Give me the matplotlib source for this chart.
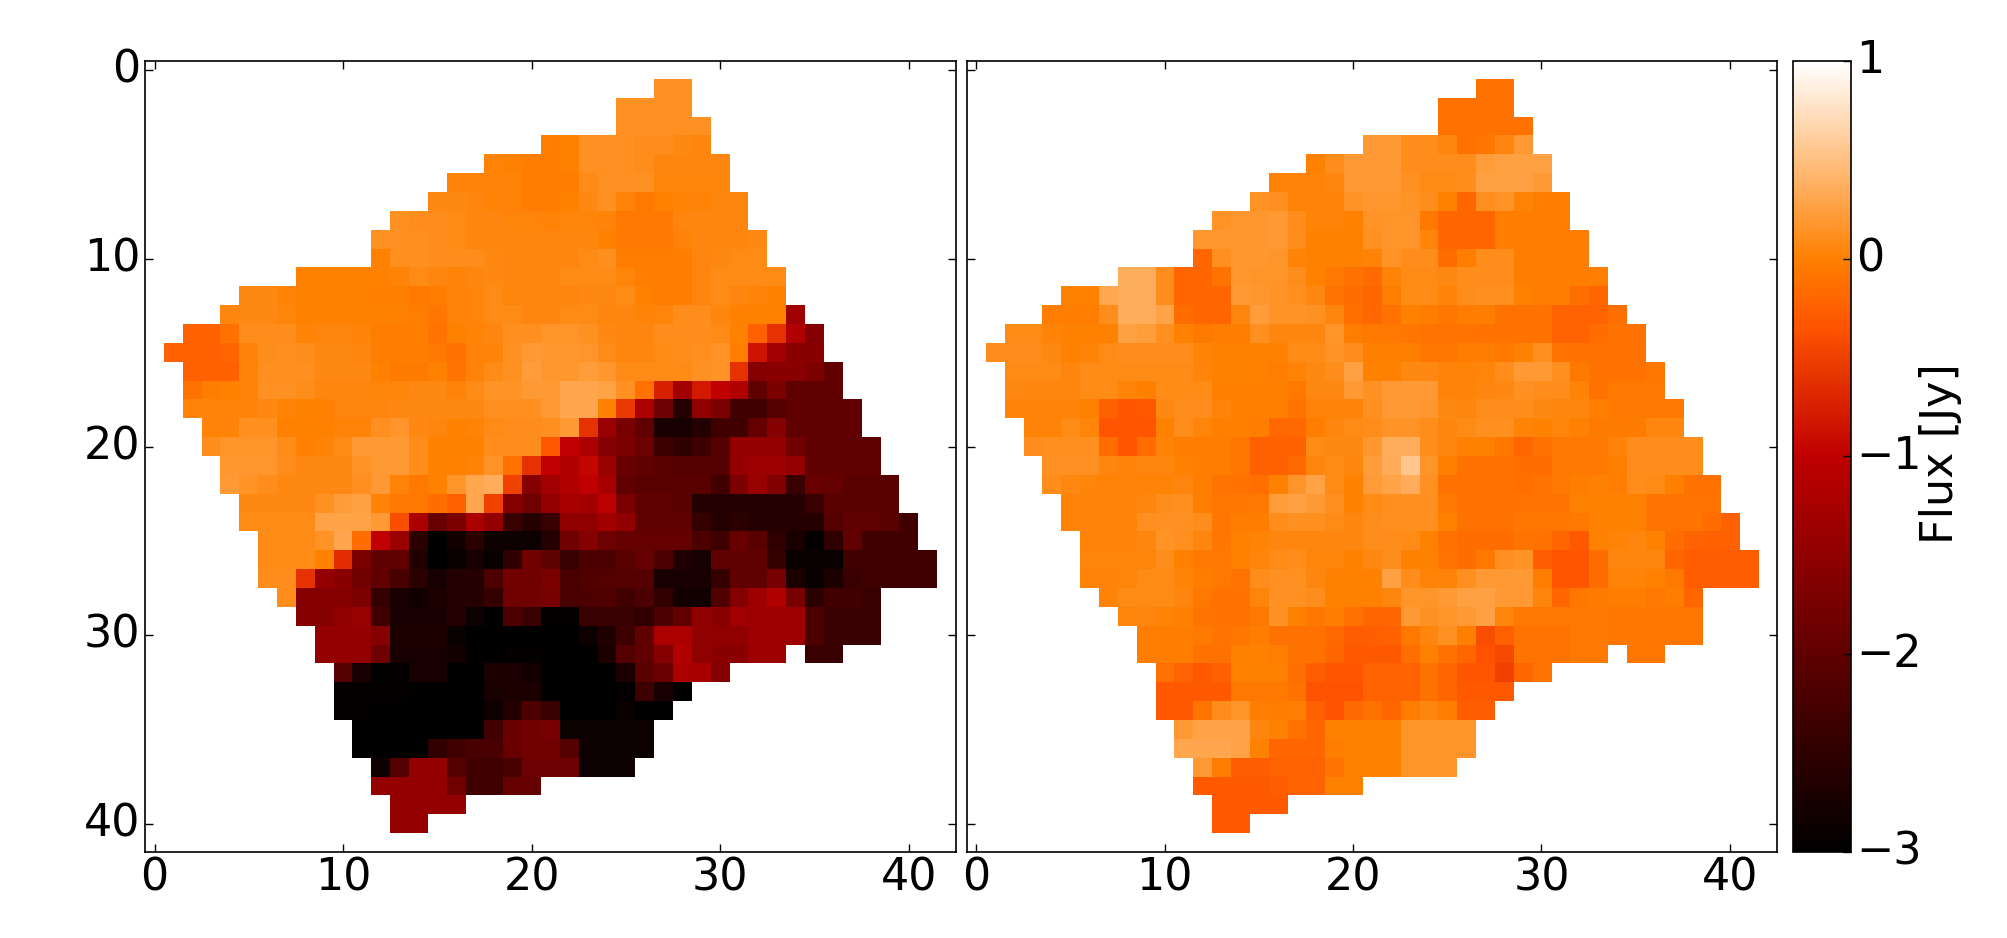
import numpy as np
import matplotlib
matplotlib.use("Agg")
import matplotlib.pyplot as plt
from matplotlib.transforms import ScaledTranslation

nan = float("nan")

# first column of rows 1..40 (both maps share the footprint)
row_starts = [27, 25, 25, 21, 18, 16, 15, 13, 12, 12, 8, 5, 4, 2, 1, 2, 2, 2, 3, 3,
              4, 4, 5, 5, 6, 6, 6, 7, 8, 9, 9, 10, 10, 10, 11, 11, 12, 12, 13, 13]

# flux in hundredths of Jy
left_rows = [
    [13, 13],
    [13, 13, 13, 13],
    [13, 13, 13, 13, 13],
    [-2, 0, 13, 13, 13, 10, 10, 7, 5],
    [2, 0, -2, -2, 0, 13, 13, 13, 10, 5, 5, 5, 5],
    [2, 2, 2, 2, -2, -2, -2, 8, 13, 13, 13, 4, 4, 4, 4],
    [7, 7, 5, 2, 2, -2, -2, 0, 7, 13, 3, -5, 0, 3, 3, 5, 5],
    [13, 10, 10, 8, 5, 5, 4, 4, 3, 4, 4, 2, -6, -6, -5, 6, 6, 6, 6],
    [14, 14, 11, 10, 8, 6, 6, 6, 6, 5, 5, 5, 0, -6, -6, -5, 3, 5, 5, 5, 7],
    [0, 12, 12, 10, 10, 10, 7, 6, 6, 6, 5, 8, 12, -2, -2, -2, -2, 5, 7, 8, 8],
    [0, 0, 0, 0, 0, 3, 8, 5, 3, 6, 7, 6, 6, 6, 8, 8, 8, 4, -3, -3, -3, 5, 8, 8, 8, 8],
    [7, 7, 3, 0, 0, 0, 0, -1, -1, -5, -3, 2, 4, 9, 4, 5, 5, 6, 7, 7, 8, 0, -3, -3, 5, 8, 6, 3, 0],
    [5, 7, 7, 4, 1, 1, 1, 1, 1, 1, -2, -7, 3, 4, 8, 8, 6, 5, 8, 8, 6, 5, 2, 4, 10, 10, 5, 0, 0, 0, -133],
    [-25, -25, -12, 10, 10, 10, 3, 5, 5, 3, -3, -3, -3, -8, 0, 3, 5, 12, 12, 17, 17, 13, 7, 5, 5, 10, 10, 10, 8, 0, -25, -60, -115, -160],
    [-25, -25, -25, -20, 2, 10, 12, 10, 7, 7, 5, -3, -3, -3, -6, -10, 3, 3, 13, 20, 18, 18, 17, 8, 6, 6, 8, 10, 12, 15, -2, -85, -130, -155, -155],
    [-25, -25, -25, 2, 12, 12, 12, 7, 7, 7, 0, -4, -4, 0, -8, 2, 8, 13, 22, 18, 18, 23, 18, 8, 8, 8, 8, 13, 15, -60, -160, -155, -155, -170, -200],
    [-12, -3, 0, 3, 13, 13, 10, 5, 6, 6, 4, 4, 7, 7, 3, 8, 15, 15, 20, 20, 30, 30, 28, 13, -10, -75, -130, -80, -100, -115, -200, -170, -200, -200, -200],
    [3, 3, 3, 3, 7, 2, 0, 0, 6, 6, 6, 7, 7, 7, 7, 7, 12, 12, 12, 20, 30, 30, 0, -55, -120, -185, -260, -150, -170, -230, -230, -210, -200, -200, -200, -200],
    [3, 3, 12, 12, 0, 0, 0, 3, 3, 12, 17, 7, 5, 0, 3, 8, 10, 10, 12, 20, -60, -140, -175, -200, -275, -275, -260, -230, -230, -195, -160, -200, -200, -200, -200],
    [10, 17, 17, 17, 8, 0, 3, 8, 20, 20, 20, 10, 0, 0, 0, 10, 10, 10, -30, -100, -120, -160, -170, -185, -235, -250, -235, -210, -145, -145, -145, -180, -200, -200, -200, -200],
    [18, 18, 18, 10, 7, 7, 7, 15, 20, 20, 10, 0, 0, 3, 15, -10, -60, -100, -115, -95, -140, -190, -200, -205, -210, -210, -210, -145, -135, -135, -145, -200, -200, -200, -200],
    [20, 15, 10, 7, 7, 7, 7, 12, 20, 3, -5, 0, 17, 30, 35, -50, -160, -130, -115, -100, -125, -200, -205, -205, -205, -205, -230, -170, -140, -165, -240, -190, -195, -205, -205, -205],
    [7, 7, 7, 7, 13, 22, 25, 2, -5, -5, -15, -25, 30, -50, -160, -180, -145, -125, -130, -105, -170, -200, -200, -205, -260, -260, -260, -260, -260, -260, -240, -205, -205, -205, -205],
    [9, 9, 8, 8, 27, 28, 28, 20, -40, -120, -190, -170, -120, -145, -240, -260, -240, -150, -150, -130, -150, -200, -200, -200, -245, -260, -255, -260, -260, -260, -260, -210, -200, -200, -205, -230],
    [9, 9, 9, 15, 30, -15, -100, -140, -255, -300, -280, -255, -285, -285, -285, -260, -180, -160, -185, -195, -195, -195, -195, -220, -230, -190, -205, -250, -275, -295, -250, -200, -230, -230, -230],
    [9, 9, 9, 0, -65, -170, -200, -200, -265, -300, -290, -275, -290, -250, -180, -200, -240, -220, -220, -205, -195, -220, -265, -275, -200, -200, -200, -245, -290, -290, -290, -230, -230, -230, -230, -230],
    [10, 10, -60, -145, -155, -180, -200, -225, -255, -275, -260, -260, -220, -180, -180, -170, -225, -215, -210, -210, -210, -275, -275, -275, -245, -200, -200, -175, -270, -290, -270, -240, -230, -230, -230, -230],
    [10, -160, -160, -160, -170, -245, -275, -280, -270, -260, -260, -245, -180, -180, -175, -225, -220, -215, -230, -220, -250, -280, -280, -215, -160, -135, -115, -175, -255, -230, -230, -240],
    [-160, -160, -150, -140, -230, -275, -275, -275, -260, -285, -300, -220, -240, -295, -295, -240, -240, -240, -250, -220, -200, -150, -155, -130, -135, -135, -135, -220, -240, -240, -240],
    [-145, -145, -145, -160, -270, -270, -270, -290, -300, -300, -300, -300, -300, -300, -285, -265, -235, -200, -120, -120, -150, -150, -150, -135, -135, -135, -220, -240, -240, -240],
    [-145, -145, -145, -185, -275, -275, -275, -280, -300, -300, -295, -295, -300, -300, -300, -270, -210, -200, -160, -115, -150, -155, -155, -135, -135, nan, -240, -240],
    [-210, -275, -300, -295, -275, -275, -300, -300, -270, -270, -280, -300, -300, -300, -300, -270, -205, -190, -120, -125, -160],
    [-295, -295, -295, -295, -300, -300, -300, -300, -275, -270, -270, -300, -300, -300, -300, -295, -235, -275, -300],
    [-295, -295, -300, -300, -300, -300, -300, -300, -285, -260, -220, -240, -300, -300, -300, -290, -297, -297],
    [-300, -300, -300, -300, -300, -300, -300, -230, -190, -180, -175, -285, -285, -285, -285, -285],
    [-300, -300, -300, -300, -250, -230, -225, -225, -190, -180, -180, -210, -285, -285, -285, -285],
    [-285, -210, -145, -145, -210, -230, -230, -225, -185, -185, -185, -285, -285, -285],
    [-145, -145, -145, -145, -180, -230, -230, -195, -195],
    [-145, -145, -145, -145],
    [-145, -145],
]

right_rows = [
    [-10, -10],
    [-10, -10, -10, -10],
    [-10, -10, -10, -10, -10],
    [20, 20, 10, 10, 5, -10, -7, 5, 20],
    [0, 10, 20, 20, 20, 10, 10, 10, 10, 23, 25, 25, 25],
    [2, 2, 2, 5, 20, 20, 20, 13, 8, 8, 10, 25, 25, 25, 20],
    [15, 12, 3, 3, 3, 15, 18, 18, 15, 10, 0, -20, 12, 15, 3, -2, -2],
    [15, 18, 18, 20, 10, 3, 3, 0, 15, 17, 17, -5, -20, -20, -20, -2, -2, -2, -2],
    [18, 18, 18, 18, 20, 10, 0, 0, 0, 13, 17, 17, 4, -20, -20, -20, -2, -2, -2, -3, -3],
    [-20, 12, 18, 18, 17, 3, 0, 0, 0, 3, 15, 10, 10, -15, -2, 10, 10, -3, -3, -3, -3],
    [35, 35, 10, -20, -20, -8, 18, 17, 17, 10, 0, -5, -10, -17, 3, 8, 8, 7, 10, 10, 10, -2, -2, -2, -2, -2],
    [0, 0, 30, 35, 35, 10, -20, -20, -20, 20, 18, 15, 12, 7, -8, -15, -20, -2, 8, 8, 3, 10, 12, 12, 0, -3, -3, -13, -20],
    [-2, -2, -2, 10, 35, 35, 27, -15, -20, -20, 5, 22, 15, 15, 13, 5, -13, -18, -12, 0, -3, -7, -3, -3, -10, -10, -10, -22, -22, -22, -13],
    [8, 8, 2, 0, 0, 0, 25, 22, 12, 0, -5, -2, -2, 12, 5, 6, 6, 17, -3, -5, -5, -7, -8, -8, -8, -10, -10, -10, -10, -22, -22, -15, -12, -12],
    [10, 10, 10, 7, 0, 3, 8, 10, 10, 10, 10, 2, 0, 0, 0, 0, 8, 8, 15, 10, -1, -1, -1, -7, -7, -2, -2, -5, 0, 12, -8, -10, -10, -10, -10],
    [8, 8, 8, 5, 8, 8, 8, 8, 8, 8, 4, 0, 0, 0, -2, 3, 7, 10, 25, 0, 0, 7, 7, 3, 3, 4, 10, 20, 20, 12, -5, -10, -10, -10, -7],
    [7, 5, 5, 5, 8, 8, 2, -1, 9, 9, 9, -1, -1, -1, -1, -5, 7, 7, 20, 13, 20, 20, 20, 3, 3, 5, 7, 13, 10, 10, 3, -10, -5, -5, -5],
    [3, 3, 3, 3, 0, -25, -33, -30, 7, 10, 10, 2, -1, -1, -1, -8, 2, 2, 2, 12, 20, 20, 18, 7, 6, 10, 10, 10, 7, 5, 5, -3, -5, -5, -5, -5],
    [2, 2, 8, 4, -33, -33, -33, 0, 10, 4, -1, -1, -3, -18, -18, -2, 6, 8, 10, 15, 15, 10, 6, 8, 12, 12, 2, 0, 4, 0, -4, -4, -4, 5, 5],
    [10, 12, 12, 12, -15, -33, -15, 3, -2, -2, -2, -7, -25, -25, -25, 8, 7, 7, 18, 35, 35, 10, 6, 1, 1, -7, -20, -10, -5, -5, -5, 2, 10, 10, 10, 10],
    [13, 13, 13, 5, 3, 5, 5, 0, -2, -2, -7, -25, -25, -18, 5, 8, 6, 22, 33, 55, 17, -1, -10, -10, -10, -15, -15, -5, -5, -5, -1, 10, 10, 10, 10],
    [10, 7, 4, 3, 3, 3, 3, 5, -2, -8, -10, -13, 0, 17, 27, 8, 0, 21, 28, 35, 13, -12, -12, -12, -12, -13, -8, -5, -3, 0, -2, 10, 8, -1, -10, -10],
    [3, 3, 3, 3, 5, 10, 12, -2, -7, -7, -5, 22, 25, 20, 12, 0, 8, 12, 12, 12, -5, -10, -12, -12, -8, -8, -8, 0, 1, 1, 1, -8, -8, -8, -8],
    [3, 3, 3, 3, 12, 14, 14, 10, -7, -3, -3, 10, 13, 12, 8, 5, 10, 12, 12, 12, 0, -12, -12, -12, -7, -7, -7, -5, 1, 1, 1, -8, -8, -8, -15, -25],
    [3, 3, 3, 5, 15, 12, 5, -7, 0, 3, 6, 6, 5, 5, 5, 10, 10, 8, 0, -12, -15, -15, -15, -8, -12, -20, -30, 0, 2, 5, 0, -15, -22, -25, -25],
    [4, 4, 4, 4, 10, 0, -5, -5, 0, 4, 8, 10, 4, 4, 0, 7, 10, 0, 0, -8, -15, -5, 12, 15, -28, -33, -33, -15, 5, 5, 5, -20, -28, -28, -28, -28],
    [3, 3, 4, 8, 8, 2, -3, -5, -8, 10, 14, 14, 6, 0, 0, 0, 25, 10, 3, 3, 12, 20, 20, 20, -2, -33, -33, -15, 3, 3, 0, -5, -28, -28, -28, -28],
    [3, 8, 8, 8, 5, -5, -10, -10, 4, 13, 13, 10, 0, 0, 0, 5, 17, 17, 20, 25, 25, 20, 20, 4, -20, -7, -4, -2, -2, -5, -3, -20],
    [4, 6, 3, 0, -8, -10, -10, -5, 13, 0, -7, -3, -10, -20, -20, 20, 14, 17, 20, 25, 4, -5, -5, -5, -5, -5, -7, -7, -7, -7, -7],
    [-2, -2, -2, -4, -8, -7, -2, -12, -12, -12, -18, -28, -26, -25, -5, 5, 13, -1, -40, -25, -8, -8, -8, -5, -5, -7, -7, -7, -7, -7],
    [-2, -2, -2, -12, -12, 0, 0, -3, -10, -10, -20, -30, -30, -30, -13, 0, -12, -20, -35, -43, -8, -8, -8, -5, -5, nan, -7, -7],
    [-12, -22, -30, -25, 0, 0, 0, -13, -28, -33, -33, -22, -22, -22, -10, -20, -33, -33, -50, -20, -8],
    [-30, -30, -30, -30, -5, -5, -5, -12, -35, -35, -35, -22, -22, -22, -12, -20, -30, -30, -30],
    [-30, -30, -8, 10, 17, -2, -2, -2, -25, -35, -18, -10, -20, -3, 5, -3, -28, -28],
    [20, 28, 28, 28, 5, 0, -10, -20, 0, 0, 0, 0, 17, 17, 17, 17],
    [30, 30, 30, 27, 0, -20, -20, -20, -2, 0, 0, 0, 17, 17, 17, 17],
    [20, -2, -28, -28, -22, -22, -22, -8, 0, 0, 0, 17, 17, 17],
    [-30, -30, -30, -30, -28, -22, -22, 0, 0],
    [-30, -30, -30, -30],
    [-30, -30],
]

map_ticks = [0, 10, 20, 30, 40]
bar_ticks = [1, 0, -1, -2, -3]


def to_grid(rows):
    grid = np.full((42, 43), np.nan)
    for i, row in enumerate(rows):
        start = row_starts[i]
        grid[i + 1, start:start + len(row)] = np.array(row) / 100.0
    return grid


W, H = 2008, 938
fs = 32

fig = plt.figure(figsize=(W / 100, H / 100), dpi=100)


def box(x0, x1, y0=60.7, y1=852):
    return fig.add_axes([x0 / W, 1 - y1 / H, (x1 - x0) / W, (y1 - y0) / H])


ax1 = box(145.3, 956)
ax2 = box(966.7, 1777)
cax = box(1793, 1851)

cmap = plt.get_cmap("gist_heat").copy()
cmap.set_bad("white")

for ax, rows in [(ax1, left_rows), (ax2, right_rows)]:
    im = ax.imshow(to_grid(rows), cmap=cmap, vmin=-3, vmax=1, interpolation="nearest", aspect="auto")
    ax.set_xlim(-0.5, 42.5)
    ax.set_ylim(41.5, -0.5)
    ax.set_xticks(map_ticks)
    ax.set_yticks(map_ticks)
    ax.tick_params(direction="in", top=True, right=True, length=6, width=1, labelsize=fs, pad=3.5)
    for s in ax.spines.values():
        s.set_linewidth(1.2)
ax2.tick_params(labelleft=False)

cb = fig.colorbar(im, cax=cax)
cb.set_ticks(bar_ticks)
cax.tick_params(direction="in", length=6, width=1, labelsize=fs, pad=3.5)
cb.outline.set_linewidth(1.2)
cb.set_label("Flux [Jy]", fontsize=fs)
cax.yaxis.set_label_coords(2.17, 0.504)

# the vertical tick labels sit a little above their ticks in the original
lift = ScaledTranslation(0, 4.5 / 100, fig.dpi_scale_trans)
for lab in ax1.get_yticklabels() + cax.get_yticklabels():
    lab.set_transform(lab.get_transform() + lift)

fig.savefig("out.png", dpi=100)
